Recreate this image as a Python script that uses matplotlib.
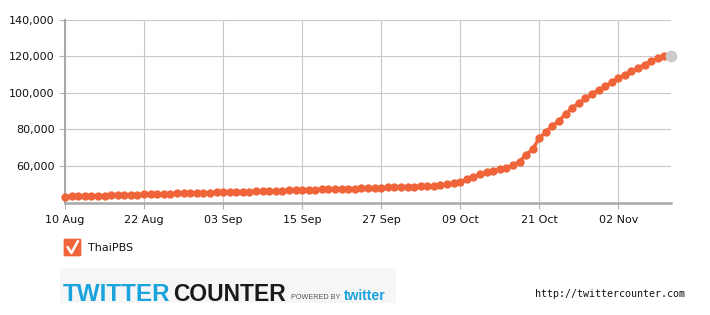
import matplotlib
matplotlib.use("Agg")
import matplotlib.pyplot as plt
from matplotlib.patches import FancyBboxPatch, Rectangle
from matplotlib.lines import Line2D
import pandas as pd

# ---------------- data ----------------
series_name = "ThaiPBS"
start_date = "2011-08-10"
followers = [
    43200, 43310, 43410, 43500, 43610, 43700, 43800, 43910, 44000, 44110, 44200, 44330, 44450,
    44550, 44650, 44740, 44840, 44930, 45020, 45110, 45200, 45300, 45390, 45490, 45590,
    45690, 45790, 45890, 45990, 46090, 46190, 46300, 46400, 46510, 46610, 46720, 46830,
    46930, 47030, 47130, 47230, 47340, 47440, 47540, 47640, 47750, 47860, 47970, 48090,
    48230, 48370, 48500, 48620, 48740, 48850, 48960, 49150, 49500, 49950, 50450, 51100,
    52700, 54100, 55600, 56500, 57400, 58200, 58800, 60500, 62400, 66200, 69200, 75200,
    78800, 81900, 84800, 88500, 91800, 94400, 97000, 99500, 101600, 103600, 105800, 108100,
    110100, 112100, 113700, 115600, 117500, 119000, 120100,
]
latest_date = "2011-11-10"
latest_value = 120500
x_tick_dates = ["2011-08-10", "2011-08-22", "2011-09-03", "2011-09-15",
                "2011-09-27", "2011-10-09", "2011-10-21", "2011-11-02"]
x_tick_labels = ["10 Aug", "22 Aug", "03 Sep", "15 Sep", "27 Sep", "09 Oct", "21 Oct", "02 Nov"]
y_ticks = [60000, 80000, 100000, 120000, 140000]
y_tick_labels = ["60,000", "80,000", "100,000", "120,000", "140,000"]

# ---------------- figure ----------------
W, H = 710, 315
fig = plt.figure(figsize=(W / 100, H / 100), dpi=100)
fig.patch.set_facecolor("white")

def fx(px):
    return px / W

def fy(py):
    return 1 - py / H

ax = fig.add_axes([fx(65), fy(203), (671 - 65) / W, (203 - 20) / H])

dates = pd.date_range(start_date, periods=len(followers), freq="D")
orange = "#f0643a"
ax.plot(dates, followers, color=orange, lw=2.5, marker="o", markersize=6.0,
        markeredgewidth=0, clip_on=False, zorder=3)
ax.plot([pd.Timestamp(latest_date)], [latest_value], marker="o", markersize=8.5,
        color="#cccccc", markeredgewidth=0, clip_on=False, zorder=4)

ax.set_xlim(pd.Timestamp(start_date), pd.Timestamp(start_date) + pd.Timedelta(days=92))
ax.set_ylim(39700, 140000)

ax.set_xticks([pd.Timestamp(d) for d in x_tick_dates])
ax.set_xticklabels(x_tick_labels)
ax.set_yticks(y_ticks)
ax.set_yticklabels(y_tick_labels)

ax.grid(True, color="#c8c8c8", lw=0.8)
ax.set_axisbelow(True)
for s in ["top", "right"]:
    ax.spines[s].set_visible(False)
ax.spines["left"].set_color("#a8a8a8")
ax.spines["left"].set_linewidth(1.5)
ax.spines["bottom"].set_color("#a8a8a8")
ax.spines["bottom"].set_linewidth(1.8)

ax.tick_params(axis="y", length=4, width=0.8, color="#b0b0b0", pad=3.5,
               labelsize=8, labelcolor="#111111")
ax.tick_params(axis="x", length=4, width=0.8, color="#b0b0b0", pad=4.5,
               labelsize=8, labelcolor="#111111")

# ---------------- legend ----------------
box = FancyBboxPatch((fx(64), fy(256)), fx(81) - fx(64), fy(239) - fy(256),
                     boxstyle="round,pad=0,rounding_size=0.002",
                     transform=fig.transFigure, facecolor=orange, edgecolor=orange,
                     lw=0.5)
fig.patches.append(box)
fig.lines.append(Line2D([fx(67.5), fx(71.5), fx(78)], [fy(247), fy(253), fy(241)],
                        transform=fig.transFigure, color="white", lw=1.8,
                        solid_capstyle="round", solid_joinstyle="round"))
fig.text(fx(88), fy(248), series_name, fontsize=8, va="center", ha="left",
         color="#111111")

# ---------------- logo & url ----------------
fig.patches.append(Rectangle((fx(60), fy(303)), fx(396) - fx(60), fy(268) - fy(303),
                             transform=fig.transFigure, facecolor="#f6f6f6",
                             edgecolor="none"))
fig.text(fx(63), fy(301), "TWITTER", fontsize=17.5, fontweight="bold",
         family="Liberation Sans", color="#1ba3dd", ha="left", va="baseline")
fig.text(fx(173), fy(301), "COUNTER", fontsize=16.5, fontweight="bold",
         family="Liberation Sans", color="#1a1a1a", ha="left", va="baseline")
fig.text(fx(291), fy(299), "POWERED BY", fontsize=5.2, family="Liberation Sans",
         color="#555555", ha="left", va="baseline")
fig.text(fx(344), fy(300), "twitter", fontsize=10, fontweight="bold",
         family="Liberation Sans", color="#1ba3dd", ha="left", va="baseline")
fig.text(fx(535), fy(294), "http://twittercounter.com", fontsize=7.2,
         family="DejaVu Sans Mono", color="#111111", ha="left", va="center")

fig.savefig("out.png", dpi=100)
